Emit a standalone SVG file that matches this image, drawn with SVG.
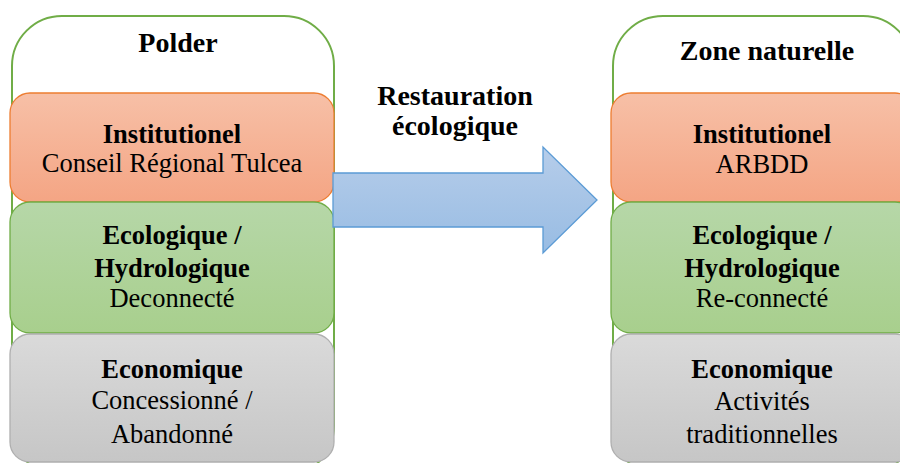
<svg xmlns="http://www.w3.org/2000/svg" width="900" height="463" viewBox="0 0 900 463">
<defs>
<linearGradient id="gO" x1="0" y1="0" x2="0" y2="1"><stop offset="0" stop-color="#F7C0A7"/><stop offset="1" stop-color="#F4A584"/></linearGradient>
<linearGradient id="gG" x1="0" y1="0" x2="0" y2="1"><stop offset="0" stop-color="#B6D7A8"/><stop offset="1" stop-color="#A8CF8D"/></linearGradient>
<linearGradient id="gR" x1="0" y1="0" x2="0" y2="1"><stop offset="0" stop-color="#DADADA"/><stop offset="1" stop-color="#C6C6C6"/></linearGradient>
<linearGradient id="gB" x1="0" y1="0" x2="0" y2="1"><stop offset="0" stop-color="#B6CDEA"/><stop offset="1" stop-color="#98BCE3"/></linearGradient>
<style>
.outer{fill:#FFFFFF;stroke:#70AD47;stroke-width:2}
.or{fill:url(#gO);stroke:#ED7D31;stroke-width:1.3}
.gr{fill:url(#gG);stroke:#70AD47;stroke-width:1.3}
.gy{fill:url(#gR);stroke:#AFAFAF;stroke-width:1.3}
.arrow{fill:url(#gB);stroke:#5B9BD5;stroke-width:1.3}
text{font-family:"Liberation Serif","Times New Roman",serif;font-size:26.5px;fill:#000;text-anchor:middle}
.b{font-weight:bold}
.t{font-size:28px}
</style>
</defs>
<g id="polder">
<rect class="outer" x="12" y="16" width="322" height="460" rx="50"/>
<text class="b t" x="178" y="52">Polder</text>
</g>
<g id="polder-institutionel">
<rect class="or" x="10" y="93" width="324" height="109" rx="20"/>
<text class="b" x="172" y="143">Institutionel</text>
<text x="172" y="172">Conseil Régional Tulcea</text>
</g>
<g id="polder-ecologique">
<rect class="gr" x="10" y="202" width="324" height="131" rx="20"/>
<text class="b" x="172" y="244">Ecologique /</text>
<text class="b" x="172" y="277">Hydrologique</text>
<text x="172" y="307">Deconnecté</text>
</g>
<g id="polder-economique">
<rect class="gy" x="10" y="334" width="324" height="128" rx="20"/>
<text class="b" x="172" y="378">Economique</text>
<text x="172" y="409">Concessionné /</text>
<text x="172" y="443">Abandonné</text>
</g>
<g id="zone">
<rect class="outer" x="613" y="16" width="300" height="460" rx="50"/>
<text class="b t" x="767" y="60">Zone naturelle</text>
</g>
<g id="zone-institutionel">
<rect class="or" x="611" y="93" width="304" height="109" rx="20"/>
<text class="b" x="762" y="143">Institutionel</text>
<text x="762" y="173">ARBDD</text>
</g>
<g id="zone-ecologique">
<rect class="gr" x="611" y="202" width="304" height="131" rx="20"/>
<text class="b" x="762" y="244">Ecologique /</text>
<text class="b" x="762" y="277">Hydrologique</text>
<text x="762" y="307">Re-connecté</text>
</g>
<g id="zone-economique">
<rect class="gy" x="611" y="334" width="304" height="128" rx="20"/>
<text class="b" x="762" y="378">Economique</text>
<text x="762" y="410">Activités</text>
<text x="762" y="443">traditionnelles</text>
</g>
<g id="connectors">
<path class="arrow" d="M333,173 H543 V147 L597,200 L543,253 V227 H333 Z"/>
<text class="b t" x="455" y="105">Restauration</text>
<text class="b t" x="455" y="135">écologique</text>
</g>
</svg>
